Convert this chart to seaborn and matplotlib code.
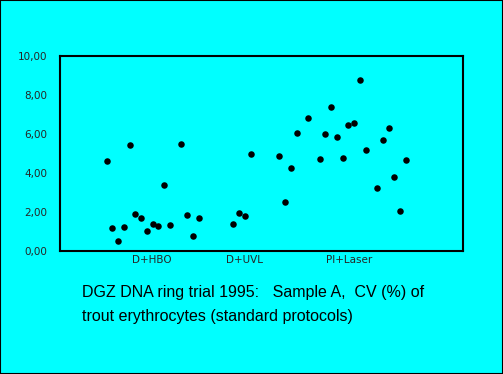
import numpy as np
import pandas as pd
import matplotlib

matplotlib.use("Agg")
import matplotlib.pyplot as plt
from matplotlib.patches import Rectangle
import seaborn as sns

# Lab position on the x axis (gaps = labs without a value) and CV (%)
lab_pos = [0, 1, 2, 3, 4, 5, 6, 7, 8, 9, 10, 11, 13, 14, 15, 16,
           22, 23, 24, 25,
           30, 31, 32, 33, 35, 37, 38, 39, 40, 41, 42, 43, 44, 45,
           47, 48, 49, 50, 51, 52]
cv = [4.63, 1.18, 0.50, 1.25, 5.42, 1.88, 1.67, 1.03, 1.40, 1.28, 3.40, 1.35,
      5.49, 1.83, 0.77, 1.67,
      1.37, 1.93, 1.81, 4.99,
      4.85, 2.50, 4.24, 6.03, 6.84, 4.72, 5.98, 7.37, 5.85, 4.75, 6.44, 6.55,
      8.79, 5.16, 3.21, 5.68, 6.29, 3.78, 2.05, 4.65]

group_names = ["D+HBO", "D+UVL", "PI+Laser"]
group_centers = [7.8, 23.9, 42.1]
y_ticks = [0, 2, 4, 6, 8, 10]
y_ticklabels = ["0,00", "2,00", "4,00", "6,00", "8,00", "10,00"]

title_lines = ["DGZ DNA ring trial 1995:   Sample A,  CV (%) of",
               "trout erythrocytes (standard protocols)"]

bg = "#00FFFF"
df = pd.DataFrame({"pos": lab_pos, "cv": cv})

sns.set_style("white")
plt.rcParams["font.family"] = ["Liberation Sans", "DejaVu Sans"]

fig = plt.figure(figsize=(5.03, 3.74), dpi=100, facecolor=bg)
ax = fig.add_axes([60 / 503, 123 / 374, 403 / 503, 195 / 374])
ax.set_facecolor(bg)

sns.scatterplot(data=df, x="pos", y="cv", color="black", s=22,
                edgecolor="black", linewidth=0, ax=ax, legend=False)

ax.set_xlim(-8.1, 61.9)
ax.set_ylim(0, 10)
ax.set_yticks(y_ticks)
ax.set_yticklabels(y_ticklabels, fontsize=7.5, family=["DejaVu Sans"])
ax.set_xticks(group_centers)
ax.set_xticklabels(group_names, fontsize=7.5, family=["DejaVu Sans"])
ax.tick_params(axis="y", length=0, pad=9)
ax.tick_params(axis="x", length=0, pad=3)
ax.set_xlabel("")
ax.set_ylabel("")
for sp in ax.spines.values():
    sp.set_color("black")
    sp.set_linewidth(1.5)

fig.text(82 / 503, 1 - 293 / 374, title_lines[0], fontsize=11.5,
         va="center", ha="left", color="black")
fig.text(82 / 503, 1 - 317 / 374, title_lines[1], fontsize=11.5,
         va="center", ha="left", color="black")

# thin black frame round the picture
fig.patches.append(Rectangle((0, 0), 1, 1, transform=fig.transFigure,
                             fill=False, edgecolor="black", linewidth=1.5))

fig.savefig("out.png", dpi=100, facecolor=bg)
plt.close(fig)
